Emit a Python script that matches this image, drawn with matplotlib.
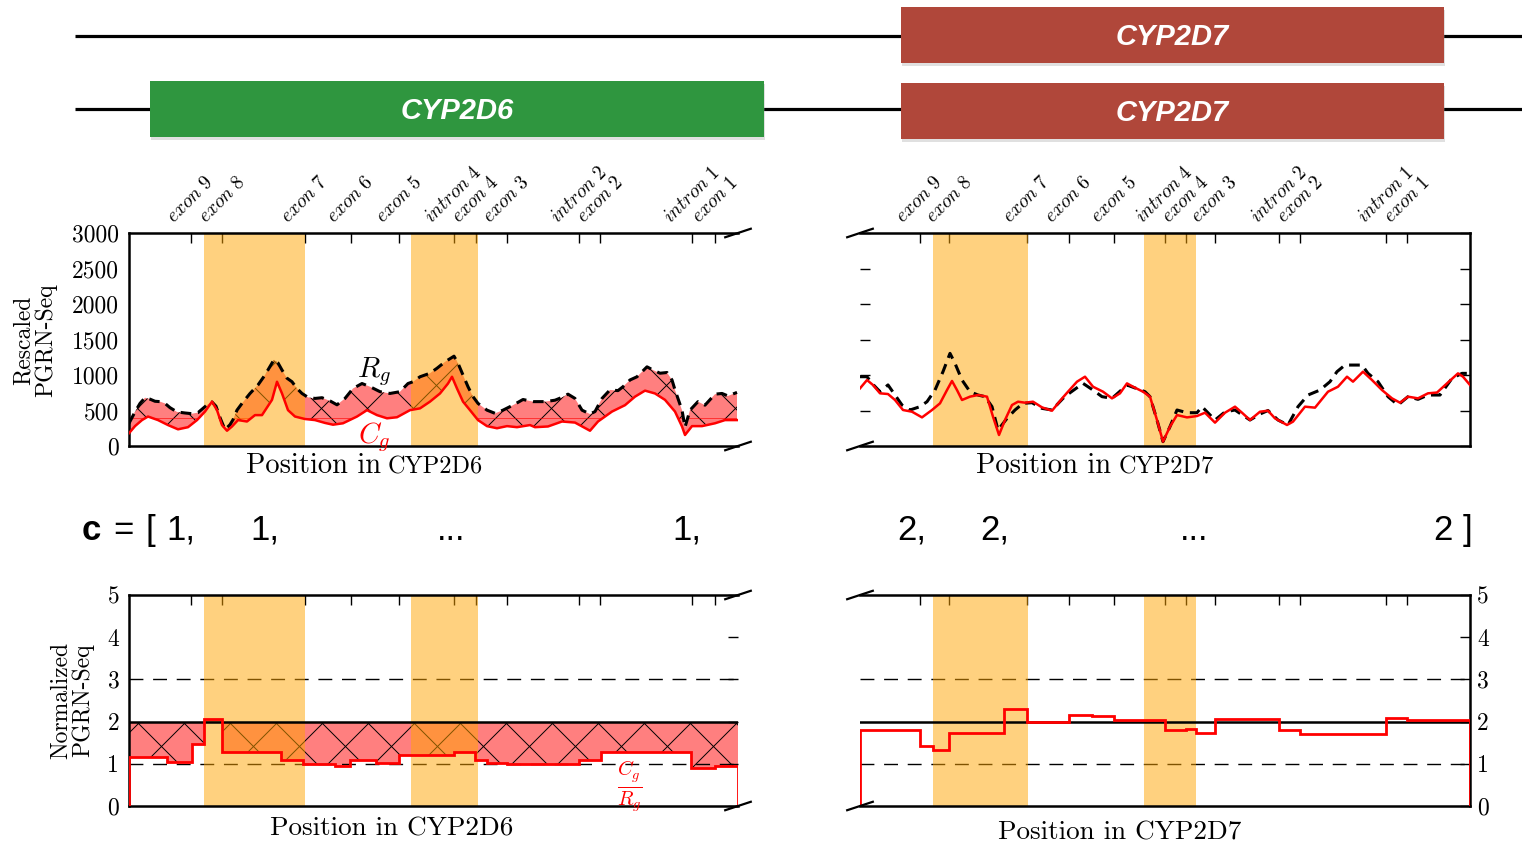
import matplotlib
matplotlib.use('Agg')
import matplotlib.pyplot as plt
import numpy as np
from matplotlib.patches import Rectangle
from matplotlib.lines import Line2D
from matplotlib.transforms import IdentityTransform
from matplotlib import font_manager

plt.rcParams['mathtext.fontset'] = 'cm'
plt.rcParams['font.family'] = 'cmr10'

# ---------------- data ----------------
feature_labels = ['exon 9', 'exon 8', 'exon 7', 'exon 6', 'exon 5', 'intron 4',
                  'exon 4', 'exon 3', 'intron 2', 'exon 2', 'intron 1', 'exon 1']
# positions along each gene window (arbitrary position units)
len_d6 = 609
len_d7 = 610
features_d6 = [62, 93, 176, 222, 270, 325, 347, 378, 450, 471, 563, 586]
features_d7 = [60, 89, 167, 209, 254, 305, 326, 355, 419, 440, 526, 547]
highlight_d6 = [(75, 176), (282, 349)]
highlight_d7 = [(73, 168), (284, 336)]

# CYP2D6 rescaled read depth
rg_d6_pos = [0, 6, 11, 16, 21, 26, 31, 36, 41, 48, 56, 63, 69, 74, 79, 83, 87, 91, 96, 101,
             104, 108, 113, 121, 129, 136, 141, 145, 149, 153, 158, 163, 168, 173, 179, 186,
             193, 201, 208, 216, 224, 233, 241, 251, 261, 271, 279, 284, 291, 301, 308, 316,
             325, 329, 334, 339, 344, 349, 358, 366, 374, 384, 394, 404, 416, 426, 433, 439,
             446, 453, 461, 466, 473, 481, 489, 494, 501, 508, 518, 524, 531, 538, 543, 546,
             553, 556, 561, 569, 576, 586, 593, 599, 608]
rg_d6 = [320, 480, 600, 680, 660, 630, 625, 600, 540, 480, 465, 455, 470, 530, 590, 620, 560,
         400, 230, 300, 370, 505, 600, 740, 860, 1000, 1120, 1215, 1170, 1070, 955, 905, 810,
         740, 685, 670, 680, 635, 580, 670, 810, 880, 835, 765, 740, 765, 880, 905, 975, 1025,
         1095, 1185, 1265, 1165, 1000, 835, 695, 600, 505, 460, 505, 575, 655, 625, 625, 645,
         685, 730, 670, 505, 450, 485, 670, 790, 780, 835, 930, 975, 1115, 1070, 1025, 1035,
         930, 790, 505, 265, 505, 625, 575, 730, 740, 705, 755]
cg_d6_pos = [0, 6, 13, 19, 29, 39, 49, 59, 68, 76, 83, 88, 93, 98, 103, 109, 118, 126, 133,
             143, 148, 153, 159, 166, 176, 186, 196, 204, 214, 228, 238, 248, 258, 268, 281,
             291, 301, 311, 319, 323, 328, 334, 341, 349, 358, 368, 378, 388, 401, 406, 419,
             433, 446, 461, 469, 483, 496, 506, 516, 526, 536, 546, 553, 556, 563, 573, 586,
             596, 608]
cg_d6 = [180, 280, 365, 415, 365, 295, 235, 265, 365, 485, 625, 505, 295, 215, 275, 365, 345,
         435, 435, 650, 905, 740, 505, 415, 380, 365, 325, 300, 320, 415, 505, 435, 390, 405,
         505, 530, 625, 740, 880, 975, 810, 625, 505, 365, 280, 250, 280, 265, 295, 265, 275,
         345, 330, 215, 345, 485, 575, 695, 780, 740, 650, 485, 275, 155, 280, 280, 320, 365,
         365]

# CYP2D7 rescaled read depth
rg_d7_pos = [0, 7, 12, 20, 28, 35, 42, 50, 60, 67, 75, 83, 90, 95, 102, 110, 118, 125, 132,
             138, 147, 155, 163, 172, 182, 192, 203, 210, 223, 233, 242, 252, 267, 285, 290,
             297, 303, 310, 317, 327, 337, 342, 355, 365, 375, 382, 390, 400, 408, 418, 428,
             438, 448, 460, 470, 477, 485, 495, 502, 508, 518, 528, 538, 548, 558, 568, 580,
             592, 602, 610]
rg_d7 = [976, 976, 882, 765, 860, 718, 577, 507, 554, 624, 788, 1047, 1305, 1164, 929, 765,
         718, 695, 554, 225, 389, 507, 601, 610, 530, 507, 671, 750, 882, 788, 695, 671, 859,
         765, 695, 366, 61, 273, 507, 469, 469, 554, 366, 480, 507, 440, 366, 450, 500, 366,
         296, 554, 718, 788, 906, 1047, 1140, 1140, 1140, 1023, 906, 695, 577, 695, 657, 718,
         718, 953, 1023, 1023]
cg_d7_pos = [0, 7, 13, 20, 28, 35, 43, 52, 62, 72, 80, 87, 92, 97, 102, 110, 118, 127, 133,
             139, 145, 152, 158, 165, 173, 182, 192, 203, 208, 217, 225, 233, 243, 252, 260,
             267, 273, 283, 290, 297, 303, 310, 317, 327, 337, 345, 355, 365, 375, 382, 390,
             400, 408, 415, 427, 433, 445, 455, 468, 478, 487, 493, 503, 512, 522, 532, 540,
             548, 558, 568, 577, 587, 598, 603, 610]
cg_d7 = [812, 929, 859, 742, 732, 648, 507, 483, 403, 507, 601, 788, 916, 788, 648, 695, 718,
         695, 413, 155, 366, 577, 624, 610, 624, 544, 497, 685, 765, 906, 976, 835, 765, 671,
         742, 882, 835, 765, 695, 366, 61, 273, 436, 403, 422, 469, 329, 469, 554, 469, 366,
         483, 497, 389, 296, 343, 554, 540, 765, 835, 976, 906, 1047, 929, 788, 671, 610, 695,
         671, 742, 753, 882, 1023, 976, 859]
baseline_d6 = 390

# normalized depth (C_g / R_g), piecewise constant over regions
ratio_d6_edges = [0, 38, 63, 75, 93, 152, 174, 206, 221, 247, 270, 325, 346, 358, 378, 450,
                  472, 562, 586, 609]
ratio_d6 = [1.17, 1.05, 1.47, 2.05, 1.29, 1.09, 1.0, 0.95, 1.1, 1.02, 1.22, 1.27, 1.08, 1.03,
            0.99, 1.08, 1.27, 0.9, 0.95]
ratio_d7_edges = [0, 60, 73, 89, 144, 167, 191, 209, 232, 254, 305, 326, 336, 355, 419, 440,
                  526, 547, 610]
ratio_d7 = [1.81, 1.41, 1.33, 1.72, 2.29, 1.99, 2.0, 2.16, 2.13, 2.03, 1.80, 1.83, 1.74, 2.05,
            1.80, 1.70, 2.09, 2.03]

# gene diagram (figure pixels)
gene_names = ['CYP2D7', 'CYP2D7', 'CYP2D6']
gene_colors = ['#b0473a', '#b0473a', '#2f963f']
gene_x0 = [901, 901, 150]
gene_x1 = [1444, 1444, 764]
gene_top = [7, 83, 81]
gene_bot = [63, 139, 137]
track_y = [36, 109]

c_tokens = ['c', '=', '[', '1,', '1,', '...', '1,', '2,', '2,', '...', '2', ']']
c_x = [82, 113, 146, 166, 250, 437, 672, 897, 980, 1180, 1433, 1463]

# ---------------- figure ----------------
W, H = 1522, 847
fig = plt.figure(figsize=(W / 100, H / 100), dpi=100)

names = {f.name for f in font_manager.fontManager.ttflist}
sans = 'Liberation Sans Narrow' if 'Liberation Sans Narrow' in names else 'Liberation Sans'

ax0 = fig.add_axes([0, 0, 1, 1])
ax0.set_xlim(0, W)
ax0.set_ylim(H, 0)
ax0.axis('off')

for y in track_y:
    ax0.plot([75, W], [y, y], color='black', lw=2.3, solid_capstyle='butt', zorder=1)
for name, col, x0, x1, t, b in zip(gene_names, gene_colors, gene_x0, gene_x1, gene_top, gene_bot):
    ax0.add_patch(Rectangle((x0 + 1, t + 3), x1 - x0, b - t, color='#999999', alpha=0.3,
                            lw=0, zorder=2))
    ax0.add_patch(Rectangle((x0, t), x1 - x0, b - t, color=col, lw=0, zorder=3))
    ax0.text((x0 + x1) / 2, (t + b) / 2 + 2, name, color='white', fontsize=21,
             family=sans, weight='bold', style='italic', ha='center', va='center', zorder=4)

for tok, x in zip(c_tokens, c_x):
    ax0.text(x, 540, tok, fontsize=25, family='Liberation Sans',
             weight='bold' if tok == 'c' else 'normal', ha='left', va='baseline')

ax0.text(35, 340, 'Rescaled\nPGRN-Seq', rotation=90, fontsize=17, ha='center', va='center',
         linespacing=1.0)
ax0.text(72, 700, 'Normalized\nPGRN-Seq', rotation=90, fontsize=17, ha='center', va='center',
         linespacing=1.0)
ax0.text(246, 473, 'Position in', fontsize=20.5, ha='left', va='baseline')
ax0.text(388, 473, 'CYP2D6', fontsize=17.5, ha='left', va='baseline')
ax0.text(976, 473, 'Position in', fontsize=20.5, ha='left', va='baseline')
ax0.text(1119, 473, 'CYP2D7', fontsize=17.5, ha='left', va='baseline')
ax0.text(392, 836, 'Position in CYP2D6', fontsize=19.5, ha='center', va='baseline')
ax0.text(1120, 840, 'Position in CYP2D7', fontsize=19.5, ha='center', va='baseline')


def px_axes(x0, x1, ytop, ybot):
    return fig.add_axes([x0 / W, 1 - ybot / H, (x1 - x0) / W, (ybot - ytop) / H])


def cross_hatch(ax, patch, spacing=46, lw=0.7):
    bb = ax.bbox
    h = bb.y1 - bb.y0
    for c in np.arange(bb.x0 - h, bb.x1 + spacing, spacing):
        for xs in ([c, c + h], [c + h, c]):
            ln = Line2D(xs, [bb.y0, bb.y1], transform=IdentityTransform(), color='black',
                        lw=lw, zorder=1.5)
            ln.set_clip_path(patch)
            ax.add_artist(ln)


def break_marks(ax, xa):
    for ya in (0, 1):
        ax.plot([xa - 0.021, xa + 0.021], [ya - 0.02, ya + 0.02], transform=ax.transAxes,
                color='black', lw=1.6, clip_on=False, zorder=5)


def frame(ax, length, feats, hl, side, top_labels):
    ax.set_xlim(0, length)
    for s in ('top', 'bottom'):
        ax.spines[s].set_linewidth(1.8)
    ax.spines[side].set_linewidth(1.8)
    ax.spines['right' if side == 'left' else 'left'].set_visible(False)
    ax.xaxis.tick_top()
    ax.set_xticks(feats)
    if top_labels:
        ax.set_xticklabels([r'$\mathit{' + s.replace(' ', r'\ ') + '}$' for s in feature_labels],
                           rotation=45, ha='center')
    else:
        ax.set_xticklabels([])
    ax.tick_params(axis='x', direction='in', length=7, width=1, pad=5, labelsize=14)
    for a, b in hl:
        ax.axvspan(a, b, color='orange', alpha=0.5, lw=0, zorder=2)
    break_marks(ax, 1 if side == 'left' else 0)


# top-left: CYP2D6 read depth
axA = px_axes(129, 738, 233, 446)
frame(axA, len_d6, features_d6, highlight_d6, 'left', True)
fill = axA.fill(np.r_[rg_d6_pos, cg_d6_pos[::-1]], np.r_[rg_d6, cg_d6[::-1]],
                color='red', alpha=0.5, lw=0, zorder=1)[0]
cross_hatch(axA, fill)
axA.axhline(baseline_d6, color='red', lw=0.6, alpha=0.7, zorder=1.6, clip_path=fill)
axA.plot(rg_d6_pos, rg_d6, color='black', lw=2.2, dashes=(3.5, 2.2), zorder=3)
axA.plot(cg_d6_pos, cg_d6, color='red', lw=1.8, zorder=3.1)
axA.set_ylim(0, 3000)
axA.set_yticks(range(0, 3001, 500))
axA.set_yticklabels([str(v) for v in range(0, 3001, 500)])
axA.tick_params(axis='y', left=True, right=False, length=0, pad=7, labelsize=17)
axA.text(245, 1050, r'$R_g$', fontsize=21, ha='center', va='center')
axA.text(245, 130, r'$C_g$', fontsize=21, ha='center', va='center', color='red')

# top-right: CYP2D7 read depth
axB = px_axes(860, 1470, 233, 446)
frame(axB, len_d7, features_d7, highlight_d7, 'right', True)
axB.plot(rg_d7_pos, rg_d7, color='black', lw=2.2, dashes=(3.5, 2.2), zorder=3)
axB.plot(cg_d7_pos, cg_d7, color='red', lw=1.8, zorder=3.1)
axB.set_ylim(0, 3000)
axB.set_yticks(range(0, 3001, 500))
axB.tick_params(axis='y', left=True, right=True, labelleft=False, direction='in', length=7,
                width=1)

# bottom-left: normalized CYP2D6
axC = px_axes(129, 738, 595, 806)
frame(axC, len_d6, features_d6, highlight_d6, 'left', False)
for lvl in (1, 3):
    axC.axhline(lvl, color='black', lw=1, dashes=(10, 7), zorder=1.2)
stp = axC.stairs(ratio_d6, ratio_d6_edges, baseline=2, fill=True, color='red', alpha=0.5,
                 lw=0, zorder=1)
cross_hatch(axC, stp)
axC.axhline(2, color='black', lw=1.8, zorder=3)
axC.stairs(ratio_d6, ratio_d6_edges, baseline=0, color='red', lw=2, zorder=3.1)
axC.set_ylim(0, 5)
axC.set_yticks(range(6))
axC.set_yticklabels([str(v) for v in range(6)])
axC.tick_params(axis='y', left=False, right=True, direction='in', length=7, width=1,
                pad=7, labelsize=17)
axC.text(501, 0.45, r'$\frac{C_g}{R_g}$', fontsize=21, ha='center', va='center', color='red')

# bottom-right: normalized CYP2D7
axD = px_axes(860, 1470, 595, 806)
frame(axD, len_d7, features_d7, highlight_d7, 'right', False)
for lvl in (1, 3):
    axD.axhline(lvl, color='black', lw=1, dashes=(10, 7), zorder=1.2)
axD.axhline(2, color='black', lw=1.8, zorder=3)
axD.stairs(ratio_d7, ratio_d7_edges, baseline=0, color='red', lw=2, zorder=3.1)
axD.set_ylim(0, 5)
axD.set_yticks(range(6))
axD.yaxis.tick_right()
axD.set_yticklabels([str(v) for v in range(6)])
axD.tick_params(axis='y', left=False, right=True, direction='in', length=7, width=1,
                pad=5, labelsize=17)

fig.savefig('out.png', dpi=100)
